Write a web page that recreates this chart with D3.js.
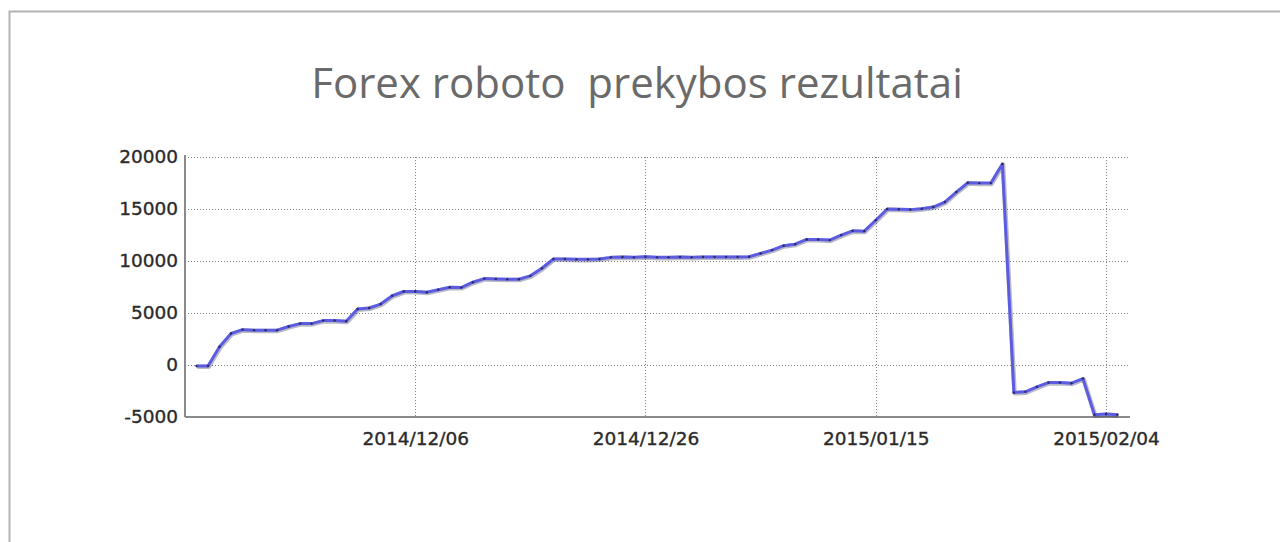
<!DOCTYPE html>
<meta charset="utf-8">
<style>
  body { margin: 0; background: #fff; font-family: "DejaVu Sans", Verdana, sans-serif; }
  .grid line { stroke: #808080; stroke-width: 1; stroke-dasharray: 1, 2; }
  .tick-label { fill: #2a2a2a; font-size: 18.5px; stroke: #2a2a2a; stroke-width: 0.35px; }
</style>
<body>
<svg id="chart" width="1280" height="542"></svg>
<script src="https://d3js.org/d3.v7.min.js"></script>
<script>

// daily balance, starting 2014/11/17
const startDay = "2014-11-17";
const balance = [
  -100, -100, 1750, 3030, 3400, 3350, 3350, 3350, 3700, 3980,
  3980, 4270, 4270, 4200, 5380, 5480, 5860, 6660, 7070, 7070,
  7000, 7230, 7480, 7450, 7960, 8310, 8280, 8250, 8250, 8570,
  9300, 10190, 10190, 10160, 10160, 10190, 10350, 10380, 10350, 10410,
  10350, 10350, 10380, 10350, 10380, 10380, 10380, 10380, 10410, 10730,
  11050, 11470, 11620, 12070, 12070, 12010, 12490, 12900, 12870, 13920,
  15000, 14970, 14940, 15030, 15190, 15670, 16630, 17520, 17490, 17490,
  19330, -2640, -2580, -2100, -1690, -1690, -1750, -1310, -4780, -4710,
  -4780
];
const xTicks = ["2014/12/06", "2014/12/26", "2015/01/15", "2015/02/04"];
const yTicks = [-5000, 0, 5000, 10000, 15000, 20000];
const xDomain = ["2014/11/16", "2015/02/06"];

const parse = d3.timeParse("%Y/%m/%d");
const fmt = d3.timeFormat("%Y/%m/%d");
const start = d3.timeParse("%Y-%m-%d")(startDay);
const data = balance.map((v, i) => ({ date: d3.timeDay.offset(start, i), value: v }));

const svg = d3.select("#chart");
const m = { left: 185, right: 1129, top: 157, bottom: 417 };

const x = d3.scaleTime().domain(xDomain.map(parse)).range([m.left, m.right]);
const y = d3.scaleLinear().domain([-5000, 20000]).range([m.bottom, m.top]);

// outer frame
svg.append("rect")
  .attr("x", 9.5).attr("y", 11.5)
  .attr("width", 1400).attr("height", 700)
  .attr("fill", "none")
  .attr("stroke", "#b4b4b4")
  .attr("stroke-width", 2);

// title
svg.append("text")
  .attr("x", 637).attr("y", 98)
  .attr("text-anchor", "middle")
  .attr("fill", "#6a6a6a")
  .attr("xml:space", "preserve")
  .style("white-space", "pre")
  .style("font-family", "'Open Sans', sans-serif")
  .style("font-size", "42px")
  .text("Forex roboto  prekybos rezultatai");

// grid
const grid = svg.append("g").attr("class", "grid");
grid.selectAll("line.h")
  .data(yTicks.filter(d => d > -5000))
  .join("line")
  .attr("class", "h")
  .attr("x1", m.left).attr("x2", m.right)
  .attr("y1", d => y(d) + 0.5).attr("y2", d => y(d) + 0.5);
grid.selectAll("line.v")
  .data(xTicks.map(parse))
  .join("line")
  .attr("class", "v")
  .attr("x1", d => Math.round(x(d)) + 0.5).attr("x2", d => Math.round(x(d)) + 0.5)
  .attr("y1", m.top).attr("y2", m.bottom);

// axes
const yAxis = svg.append("g")
  .attr("transform", `translate(${m.left},0)`)
  .call(d3.axisLeft(y).tickValues(yTicks).tickFormat(d => String(d)).tickSize(0).tickPadding(7));
const xAxis = svg.append("g")
  .attr("transform", `translate(0,${m.bottom})`)
  .call(d3.axisBottom(x).tickValues(xTicks.map(parse)).tickFormat(fmt).tickSize(0).tickPadding(15));

[yAxis, xAxis].forEach(g => {
  g.select(".domain").attr("stroke", "#8a8a8a").attr("stroke-width", 2);
  g.selectAll("text")
    .attr("class", "tick-label")
    .style("font-family", "'DejaVu Sans', Verdana, sans-serif")
    .attr("fill", "#2a2a2a");
});
yAxis.select(".domain").attr("d", `M0,${m.top - 2}V${m.bottom}`);
xAxis.select(".domain").attr("d", `M${m.left},0H${m.right + 1}`);

// series
const line = d3.line().x(d => x(d.date)).y(d => y(d.value));

svg.append("path")
  .datum(data)
  .attr("fill", "none")
  .attr("stroke", "#1a1a40")
  .attr("stroke-opacity", 0.3)
  .attr("stroke-width", 4.5)
  .attr("stroke-linejoin", "round")
  .attr("transform", "translate(0.7,0.8)")
  .attr("d", line);

svg.append("path")
  .datum(data)
  .attr("fill", "none")
  .attr("stroke", "#5c5ce2")
  .attr("stroke-width", 3)
  .attr("stroke-linejoin", "round")
  .attr("d", line);

svg.append("g")
  .selectAll("circle")
  .data(data)
  .join("circle")
  .attr("cx", d => x(d.date))
  .attr("cy", d => y(d.value))
  .attr("r", 1.2)
  .attr("fill", "#2a2a66");
</script>
</body>
